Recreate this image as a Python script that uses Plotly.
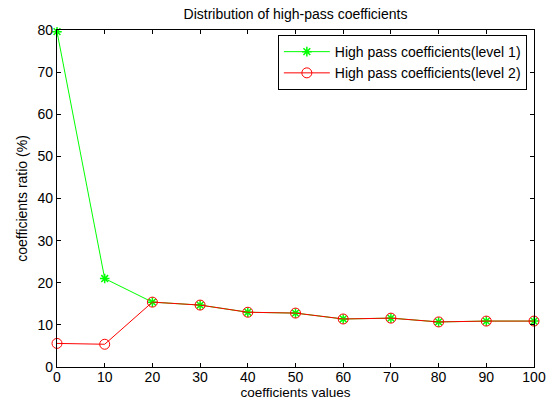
import plotly.graph_objects as go

x_vals = [0, 10, 20, 30, 40, 50, 60, 70, 80, 90, 100]
level1 = [79.6, 21.0, 15.4, 14.7, 13.0, 12.8, 11.4, 11.6, 10.7, 10.9, 10.9]
level2 = [5.6, 5.4, 15.4, 14.7, 13.0, 12.8, 11.4, 11.6, 10.7, 10.9, 10.9]
x_ticks = [0, 10, 20, 30, 40, 50, 60, 70, 80, 90, 100]
y_ticks = [0, 10, 20, 30, 40, 50, 60, 70, 80]

fig = go.Figure()
fig.add_trace(go.Scatter(
    x=x_vals, y=level1, mode="lines+markers",
    name="High pass coefficients(level 1)",
    line=dict(color="#00ff00", width=1),
    marker=dict(symbol="asterisk-open", size=8, color="#00ff00",
                line=dict(color="#00ff00", width=1.5)),
    cliponaxis=False,
))
fig.add_trace(go.Scatter(
    x=x_vals, y=level2, mode="lines+markers",
    name="High pass coefficients(level 2)",
    line=dict(color="#ff0000", width=1),
    marker=dict(symbol="circle-open", size=10, color="#ff0000",
                line=dict(color="#ff0000", width=1)),
    cliponaxis=False,
))

axis_common = dict(
    showline=True, linecolor="black", linewidth=1.2, mirror="ticks",
    ticks="inside", ticklen=4, tickcolor="black", showgrid=False,
    zeroline=False, tickfont=dict(size=14, color="black"), automargin=False,
)
fig.update_xaxes(range=[0, 100], tickvals=x_ticks, ticklabelstandoff=-3,
                 title=dict(text="coefficients values", font=dict(size=13.5, color="black"), standoff=0),
                 **axis_common)
fig.update_yaxes(range=[0, 80], tickvals=y_ticks,
                 title=dict(text="coefficients ratio (%)", font=dict(size=14, color="black"), standoff=6),
                 **axis_common)

fig.update_layout(
    width=548, height=402,
    margin=dict(l=57, r=14, t=30, b=35, autoexpand=False),
    paper_bgcolor="white", plot_bgcolor="white",
    font=dict(family="Liberation Sans, Arial, sans-serif", color="black"),
    title=dict(text="Distribution of high-pass coefficients", xref="paper", x=0.5, xanchor="center",
               yref="container", y=1 - 14 / 402, yanchor="middle", font=dict(size=14, color="black")),
    legend=dict(x=0.985, y=0.985, xanchor="right", yanchor="top",
                bgcolor="white", bordercolor="black", borderwidth=1,
                font=dict(size=14, color="black"), tracegroupgap=0,
                itemwidth=46),
    showlegend=True,
)

fig.write_html("out.html", config={"displayModeBar": False},
               post_script="document.body.style.margin='0';document.body.style.padding='0';")
